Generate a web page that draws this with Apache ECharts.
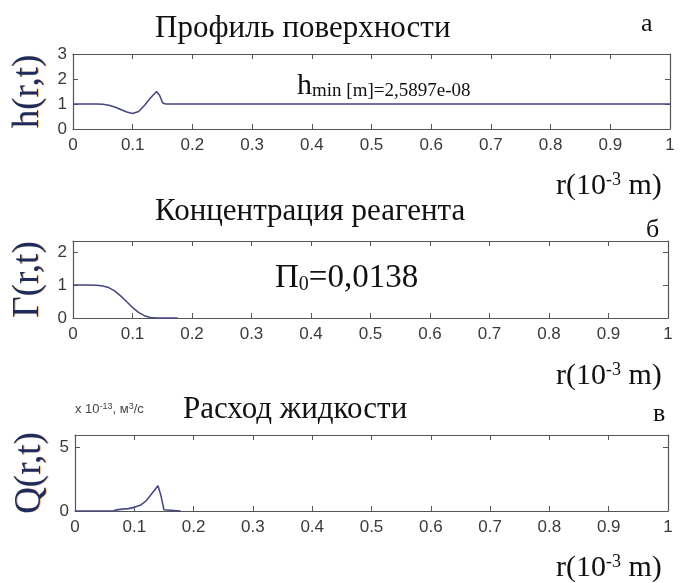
<!DOCTYPE html>
<html><head><meta charset="utf-8">
<script src="https://cdn.jsdelivr.net/npm/echarts@6/dist/echarts.min.js"></script>
<style>html,body{margin:0;padding:0;background:#fff}#c{width:684px;height:583px}</style>
</head><body><div id="c"></div>
<script>
// ---- data ----
const xTickLabels = ['0','0.1','0.2','0.3','0.4','0.5','0.6','0.7','0.8','0.9','1'];
const hR = [0, 0.02, 0.04, 0.05, 0.06, 0.07, 0.08, 0.09, 0.1, 0.11, 0.12, 0.13, 0.14, 0.145, 0.15, 0.155, 0.2, 1.0];
const hV = [1, 1, 1, 0.99, 0.95, 0.88, 0.78, 0.68, 0.62, 0.7, 0.95, 1.25, 1.5, 1.35, 1.05, 1.0, 1, 1];
const gR = [0, 0.02, 0.04, 0.05, 0.06, 0.07, 0.08, 0.09, 0.1, 0.11, 0.12, 0.13, 0.14, 0.176];
const gV = [1, 1, 0.99, 0.97, 0.92, 0.82, 0.67, 0.5, 0.32, 0.17, 0.07, 0.015, 0, 0];
const qR = [0, 0.065, 0.07, 0.08, 0.09, 0.1, 0.11, 0.12, 0.13, 0.14, 0.145, 0.15, 0.152, 0.178];
const qV = [0, 0, 0.1, 0.15, 0.2, 0.3, 0.45, 0.8, 1.4, 2.0, 1.2, 0.1, 0, 0];
const qFaintR = [0.065, 0.07, 0.085, 0.1];
const qFaintV = [0, 0.05, 0.12, 0.2];

const zip = (a, b) => a.map((x, i) => [x, b[i]]);

const grids = [
  {left: 73, right: 14, top: 54, height: 75, outerBoundsMode: 'none', containLabel: false},
  {left: 73, right: 16, top: 241, height: 77, outerBoundsMode: 'none', containLabel: false},
  {left: 75, right: 16, top: 435, height: 76, outerBoundsMode: 'none', containLabel: false}
];
const yCfg = [
  {max: 3, interval: 1, name: 'h(r,t)', fmt: v => Number.isInteger(v) ? String(v) : ''},
  {max: 2.33, interval: 1, name: 'Γ(r,t)', fmt: v => Number.isInteger(v) ? String(v) : ''},
  {max: 6, interval: 5, name: 'Q(r,t)', fmt: v => (v === 0 || v === 5) ? String(v) : ''}
];
const axisColor = '#555';
const labelFont = {fontFamily: 'Liberation Sans', fontSize: 17, color: '#3a3a3a'};
const xAxes = [], yAxes = [];
grids.forEach((g, i) => {
  const base = {
    type: 'value', gridIndex: i, min: 0, max: 1, interval: 0.1,
    axisLine: {show: true, onZero: false, lineStyle: {color: axisColor, width: 1.2}},
    axisTick: {show: true, inside: true, length: 5, lineStyle: {color: axisColor}},
    splitLine: {show: false}
  };
  xAxes.push(Object.assign({}, base, {position: 'bottom',
    axisLabel: Object.assign({margin: 8, formatter: v => xTickLabels[Math.round(v * 10)] || ''}, labelFont)}));
  xAxes.push(Object.assign({}, base, {position: 'top', axisLabel: {show: false}}));
  const yb = {
    type: 'value', gridIndex: i, min: 0, max: yCfg[i].max, interval: yCfg[i].interval,
    axisLine: {show: true, onZero: false, lineStyle: {color: axisColor, width: 1.2}},
    axisTick: {show: true, inside: true, length: 5, lineStyle: {color: axisColor}},
    splitLine: {show: false}
  };
  yAxes.push(Object.assign({}, yb, {position: 'left',
    name: yCfg[i].name, nameLocation: 'middle', nameGap: 24, nameRotate: 90,
    nameTextStyle: {fontFamily: 'Liberation Serif', fontSize: 37, color: '#1d2c5e',
      textShadowColor: 'rgba(220,140,40,0.6)', textShadowOffsetX: 1, textShadowOffsetY: 0, textShadowBlur: 1},
    axisLabel: Object.assign({margin: 6, formatter: yCfg[i].fmt}, labelFont)}));
  yAxes.push(Object.assign({}, yb, {position: 'right', axisLabel: {show: false}}));
});

const lineColor = '#45457f';
const mkSeries = (data, gi, color, width) => ({
  type: 'line', data: data, xAxisIndex: gi * 2, yAxisIndex: gi * 2,
  showSymbol: false, symbol: 'none', smooth: false, animation: false,
  lineStyle: {color: color, width: width}
});

const serif = 'Liberation Serif';
const titleStyle = {fontFamily: serif, fontSize: 31, fontWeight: 'normal', color: '#111'};
const rLabelRich = {
  a: {fontFamily: serif, fontSize: 30, fontWeight: 'normal', color: '#111'},
  s: {fontFamily: serif, fontSize: 18, fontWeight: 'normal', color: '#111', verticalAlign: 'top', padding: [0, 0, 12, 0]}
};
const rLabel = '{a|r(10}{s|-3}{a| m)}';

const titles = [
  {text: 'Профиль поверхности', left: 150, top: 8, textStyle: titleStyle},
  {text: 'а', left: 636, top: 6, textStyle: Object.assign({}, titleStyle, {fontSize: 26})},
  {text: '{a|h}{b|min [m]=2,5897e-08}', left: 292, top: 66, textStyle: {rich: {
    a: {fontFamily: serif, fontSize: 30, fontWeight: 'normal', color: '#111'},
    b: {fontFamily: serif, fontSize: 19, fontWeight: 'normal', color: '#111', verticalAlign: 'bottom'}}}},
  {text: rLabel, left: 551, top: 166, textStyle: {rich: rLabelRich}},
  {text: 'Концентрация реагента', left: 150, top: 191, textStyle: titleStyle},
  {text: 'б', left: 641, top: 212, textStyle: Object.assign({}, titleStyle, {fontSize: 26})},
  {text: '{a|П}{s|0}{a|=0,0138}', left: 270, top: 257, textStyle: {rich: {
    a: {fontFamily: serif, fontSize: 33, fontWeight: 'normal', color: '#111'},
    s: {fontFamily: serif, fontSize: 20, fontWeight: 'normal', color: '#111', verticalAlign: 'bottom'}}}},
  {text: rLabel, left: 551, top: 356, textStyle: {rich: rLabelRich}},
  {text: '{a|x 10}{s|-13}{a|, м}{s|3}{a|/с}', left: 70, top: 397, textStyle: {rich: {
    a: {fontFamily: 'Liberation Sans', fontSize: 13, fontWeight: 'normal', color: '#444'},
    s: {fontFamily: 'Liberation Sans', fontSize: 9, fontWeight: 'normal', color: '#444', verticalAlign: 'top', padding: [0, 0, 6, 0]}}}},
  {text: 'Расход жидкости', left: 178, top: 389, textStyle: titleStyle},
  {text: 'в', left: 648, top: 396, textStyle: Object.assign({}, titleStyle, {fontSize: 26})},
  {text: rLabel, left: 551, top: 548, textStyle: {rich: rLabelRich}}
];

const chart = echarts.init(document.getElementById('c'), null, {renderer: 'canvas'});
chart.setOption({
  animation: false,
  backgroundColor: '#fff',
  title: titles,
  grid: grids,
  xAxis: xAxes,
  yAxis: yAxes,
  series: [
    mkSeries(zip(hR, hV), 0, lineColor, 1.5),
    mkSeries(zip(gR, gV), 1, lineColor, 1.5),
    mkSeries(zip(qFaintR, qFaintV), 2, '#a8a8c8', 1.2),
    mkSeries(zip(qR, qV), 2, lineColor, 1.5)
  ]
});
</script></body></html>
